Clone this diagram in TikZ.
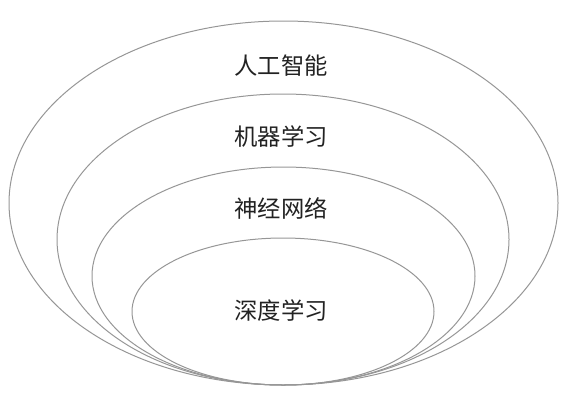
\documentclass[tikz,border=0pt]{standalone}
\usepackage{fontspec}
\newfontfamily\cjk{Noto Sans CJK SC}

\tikzset{every picture/.style={line width=0.75pt}}

\begin{document}
\begin{tikzpicture}[x=0.75pt,y=0.75pt,yscale=-1,xscale=1]
\useasboundingbox (0,0) rectangle (566,400); %set diagram to 566 x 400

%Shape: Ellipse [id:dp_ai] 
\draw  [color={rgb, 255:red, 150; green, 150; blue, 150 }  ,draw opacity=1 ] (9,203) .. controls (9,102.48) and (131.89,21) .. (283.5,21) .. controls (435.11,21) and (558,102.48) .. (558,203) .. controls (558,303.52) and (435.11,385) .. (283.5,385) .. controls (131.89,385) and (9,303.52) .. (9,203) -- cycle ;
%Shape: Ellipse [id:dp_ml] 
\draw  [color={rgb, 255:red, 150; green, 150; blue, 150 }  ,draw opacity=1 ] (57,239.5) .. controls (57,159.14) and (158.18,94) .. (283,94) .. controls (407.82,94) and (509,159.14) .. (509,239.5) .. controls (509,319.86) and (407.82,385) .. (283,385) .. controls (158.18,385) and (57,319.86) .. (57,239.5) -- cycle ;
%Shape: Ellipse [id:dp_nn] 
\draw  [color={rgb, 255:red, 150; green, 150; blue, 150 }  ,draw opacity=1 ] (92,276) .. controls (92,215.8) and (177.73,167) .. (283.5,167) .. controls (389.27,167) and (475,215.8) .. (475,276) .. controls (475,336.2) and (389.27,385) .. (283.5,385) .. controls (177.73,385) and (92,336.2) .. (92,276) -- cycle ;
%Shape: Ellipse [id:dp_dl] 
\draw  [color={rgb, 255:red, 150; green, 150; blue, 150 }  ,draw opacity=1 ] (132,311.5) .. controls (132,270.91) and (199.6,238) .. (283,238) .. controls (366.4,238) and (434,270.91) .. (434,311.5) .. controls (434,352.09) and (366.4,385) .. (283,385) .. controls (199.6,385) and (132,352.09) .. (132,311.5) -- cycle ;

% Text Node
\draw (281,66) node [inner sep=0.75pt]  [font=\cjk\fontsize{17.5}{21}\selectfont,color={rgb, 255:red, 34; green, 34; blue, 34 }  ,opacity=1 ] (ai) {人工智能};
% Text Node
\draw (281,137) node [inner sep=0.75pt]  [font=\cjk\fontsize{17.5}{21}\selectfont,color={rgb, 255:red, 34; green, 34; blue, 34 }  ,opacity=1 ] (ml) {机器学习};
% Text Node
\draw (281,208) node [inner sep=0.75pt]  [font=\cjk\fontsize{17.5}{21}\selectfont,color={rgb, 255:red, 34; green, 34; blue, 34 }  ,opacity=1 ] (nn) {神经网络};
% Text Node
\draw (281,311) node [inner sep=0.75pt]  [font=\cjk\fontsize{17.5}{21}\selectfont,color={rgb, 255:red, 34; green, 34; blue, 34 }  ,opacity=1 ] (dl) {深度学习};


\end{tikzpicture}
\end{document}
